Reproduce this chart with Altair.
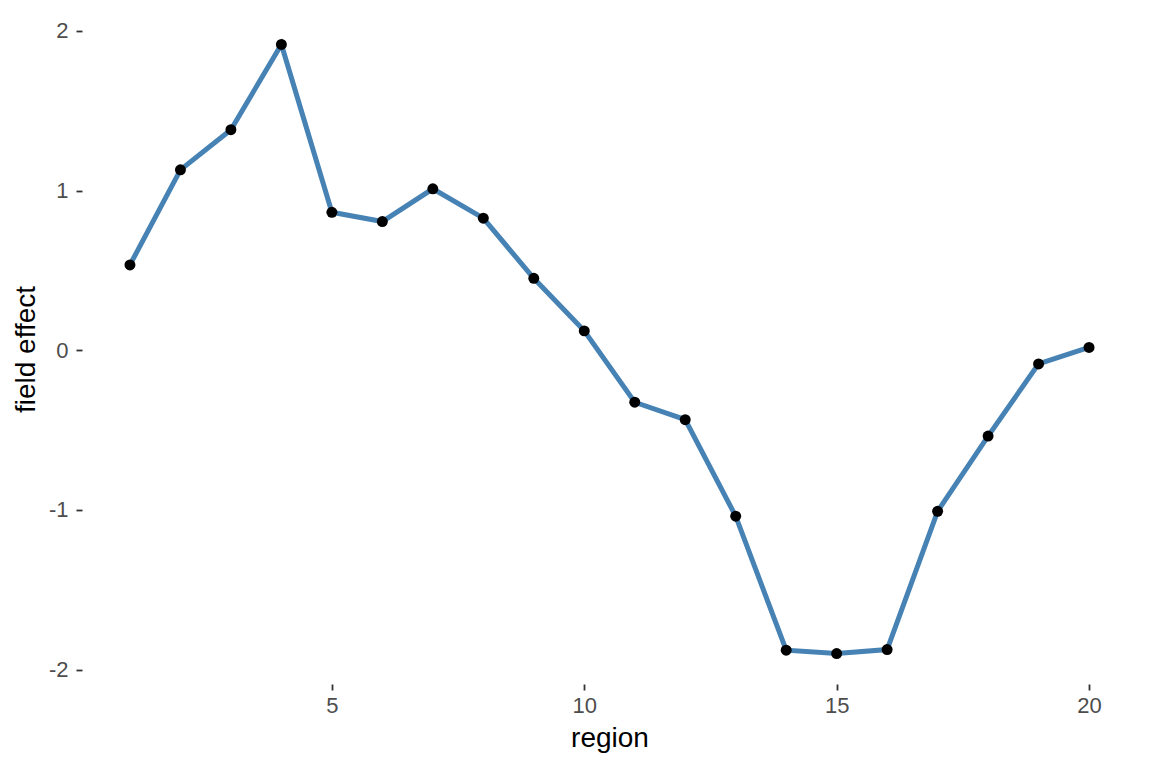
import altair as alt
import pandas as pd

region = list(range(1, 21))
effect = [0.534, 1.130, 1.381, 1.915, 0.864, 0.806, 1.011, 0.827, 0.450, 0.121,
          -0.326, -0.435, -1.040, -1.879, -1.900, -1.875, -1.009, -0.538, -0.086, 0.017]
x_ticks = [5, 10, 15, 20]
y_ticks = [-2, -1, 0, 1, 2]

df = pd.DataFrame({"region": region, "effect": effect})

ymin, ymax = min(effect), max(effect)
ypad = (ymax - ymin) * 0.05
xpad = (max(region) - min(region)) * 0.05

FONT = "Liberation Sans"
TICK_FS = 22
TITLE_FS = 28

x_enc = alt.X(
    "region:Q",
    title="region",
    scale=alt.Scale(domain=[min(region) - xpad, max(region) + xpad], nice=False, zero=False),
    axis=alt.Axis(values=x_ticks, grid=False, domain=False, tickSize=6, tickWidth=1.8,
                  tickColor="#333333", labelColor="#4d4d4d", labelFontSize=TICK_FS,
                  labelFont=FONT, labelPadding=5, titleFont=FONT, titleFontSize=TITLE_FS,
                  titleFontWeight="normal", titleColor="#000000", titlePadding=8,
                  labelFlush=False, labelExpr="format(datum.value, 'd')"),
)
y_enc = alt.Y(
    "effect:Q",
    title="field effect",
    scale=alt.Scale(domain=[ymin - ypad, ymax + ypad], nice=False, zero=False),
    axis=alt.Axis(values=y_ticks, grid=False, domain=False, tickSize=6, tickWidth=1.8,
                  tickColor="#333333", labelColor="#4d4d4d", labelFontSize=TICK_FS,
                  labelFont=FONT, labelPadding=8, titleFont=FONT, titleFontSize=TITLE_FS,
                  titleFontWeight="normal", titleColor="#000000", titlePadding=8,
                  labelFlush=False, labelExpr="replace(format(datum.value, 'd'), '−', '-')"),
)

base = alt.Chart(df).encode(x=x_enc, y=y_enc)
line = base.mark_line(color="#4682B4", strokeWidth=5)
pts = base.mark_circle(color="#000000", size=120, opacity=1)

chart = (line + pts).properties(
    width=1055, height=670,
    padding={"left": 74, "top": 6, "right": 7, "bottom": 80},
    autosize=alt.AutoSizeParams(type="none"),
).configure(background="white").configure_view(strokeWidth=0, stroke="transparent")

chart.save("out.html", embed_options={"renderer": "svg", "actions": False})
